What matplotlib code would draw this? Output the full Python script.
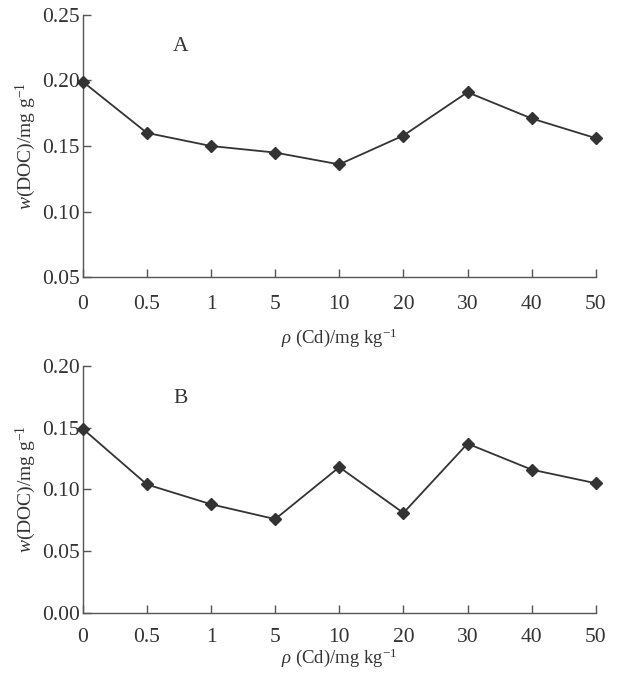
import numpy as np
import matplotlib
matplotlib.use('agg')
import matplotlib.pyplot as plt
from matplotlib import rcParams

# DATA
cd_levels = ['0', '0.5', '1', '5', '10', '20', '30', '40', '50']
doc_a = [0.199, 0.160, 0.150, 0.145, 0.136, 0.158, 0.191, 0.171, 0.156]
doc_b = [0.149, 0.104, 0.088, 0.076, 0.118, 0.081, 0.137, 0.116, 0.105]

rcParams['font.family'] = 'serif'
rcParams['font.serif'] = ['Liberation Serif', 'DejaVu Serif']
rcParams['mathtext.fontset'] = 'custom'
rcParams['mathtext.rm'] = 'Liberation Serif'
rcParams['mathtext.it'] = 'Liberation Serif:italic'

fontsize = 15.5
linecol = '#333333'
axcol = '#555555'

fig = plt.figure(figsize=(6.18, 6.76), dpi=100)
ax_a = fig.add_axes([0.134, 0.590, 0.830, 0.388])
ax_b = fig.add_axes([0.134, 0.093, 0.830, 0.366])

x = np.arange(len(cd_levels))

panels = [
    (ax_a, doc_a, (0.05, 0.25), [0.05, 0.10, 0.15, 0.20, 0.25], 'A', 0.878, 13, 9),
    (ax_b, doc_b, (0.0, 0.20), [0.00, 0.05, 0.10, 0.15, 0.20], 'B', 0.869, 11, -1),
]

for ax, vals, ylim, yticks, tag, tag_y, xtpad, xlpad in panels:
    ax.plot(x, vals, color=linecol, lw=1.3, marker='D', ms=6.5,
            mfc=linecol, mec=linecol, clip_on=False, zorder=3)
    ax.set_xlim(0, len(cd_levels) - 1)
    ax.set_ylim(*ylim)
    ax.set_xticks(x)
    ax.set_xticklabels(cd_levels)
    ax.set_yticks(yticks)
    ax.set_yticklabels(['%.2f' % v for v in yticks])
    for s in ['top', 'right']:
        ax.spines[s].set_visible(False)
    for s in ['left', 'bottom']:
        ax.spines[s].set_color(axcol)
        ax.spines[s].set_linewidth(1.0)
    ax.tick_params(axis='both', direction='in', length=6, width=1.0,
                   color=axcol, labelcolor='#333333', labelsize=fontsize)
    ax.tick_params(axis='y', pad=2)
    ax.tick_params(axis='x', pad=xtpad)
    ax.set_ylabel(r'$w$(DOC)/mg g$^{\mathregular{-1}}$', fontsize=fontsize - 1.5,
                  color='#333333', labelpad=3)
    ax.set_xlabel(r'$\rho$ (Cd)/mg kg$^{\mathregular{-1}}$', fontsize=fontsize - 2,
                  color='#333333', labelpad=xlpad)
    ax.text(0.191, tag_y, tag, transform=ax.transAxes, fontsize=fontsize,
            color='#333333', ha='center', va='center')

fig.savefig('out.png', dpi=100)
